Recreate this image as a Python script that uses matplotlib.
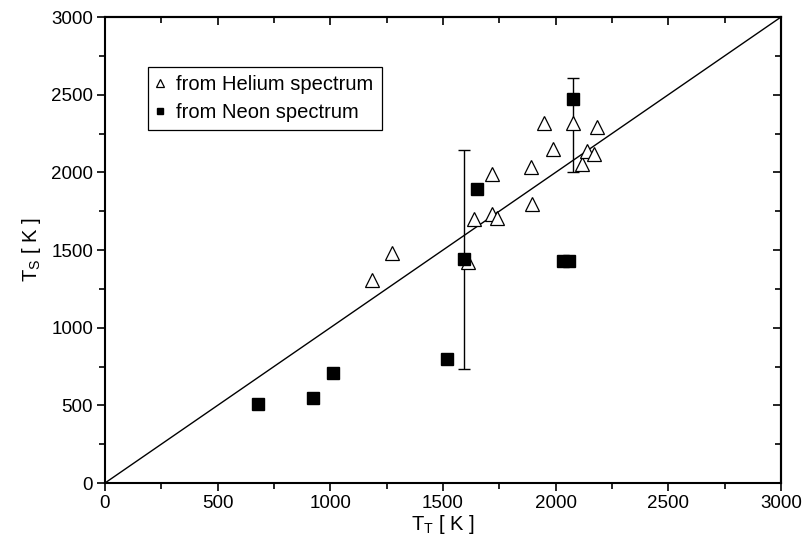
import matplotlib
matplotlib.use("Agg")
import matplotlib.pyplot as plt
from matplotlib.ticker import MultipleLocator

plt.rcParams["font.family"] = ["Liberation Sans", "DejaVu Sans"]
plt.rcParams["mathtext.fontset"] = "custom"
plt.rcParams["mathtext.rm"] = "Liberation Sans"

# Helium spectrum (triangles)
he_tt = [1184, 1274, 1610, 1638, 1719, 1739, 1719, 1894, 1889, 1949, 1990, 2079, 2116, 2138, 2172, 2183]
he_ts = [1307, 1479, 1421, 1702, 1730, 1705, 1988, 1795, 2037, 2316, 2149, 2316, 2054, 2140, 2117, 2294]

# Neon spectrum (squares)
ne_tt = [679, 925, 1013, 1517, 1593, 1652, 2034, 2058, 2076]
ne_ts = [509, 545, 706, 797, 1440, 1891, 1430, 1430, 2473]

# error bars (x, y, +/- error)
err_x = [1593, 2079]
err_y = [1438, 2305]
err_d = [705, 301]

line_xy = [0, 3000]

fig = plt.figure(figsize=(8.05, 5.58), dpi=100)
ax = fig.add_axes([0.1304, 0.1344, 0.8398, 0.8351])

ax.plot(line_xy, line_xy, color="black", lw=1.0, zorder=1)
ax.errorbar(err_x, err_y, yerr=err_d, fmt="none", ecolor="black", elinewidth=1.0,
            capsize=4, capthick=1.0, zorder=2)
ax.plot(he_tt, he_ts, ls="none", marker="^", ms=9.5, mfc="white", mec="black",
        mew=0.9, label="from Helium spectrum", zorder=3)
ax.plot(ne_tt, ne_ts, ls="none", marker="s", ms=8, mfc="black", mec="black",
        label="from Neon spectrum", zorder=4)

ax.set_xlim(0, 3000)
ax.set_ylim(0, 3000)
ax.xaxis.set_major_locator(MultipleLocator(500))
ax.xaxis.set_minor_locator(MultipleLocator(250))
ax.yaxis.set_major_locator(MultipleLocator(500))
ax.yaxis.set_minor_locator(MultipleLocator(250))
ax.tick_params(which="both", direction="out", labelsize=13.5, width=1.2, pad=2.5)
ax.tick_params(which="major", length=6)
ax.tick_params(which="minor", length=4)
for s in ax.spines.values():
    s.set_linewidth(1.5)

# inward ticks on top / right without labels
axr = ax.secondary_yaxis("right")
axr.yaxis.set_major_locator(MultipleLocator(500))
axr.yaxis.set_minor_locator(MultipleLocator(250))
axr.tick_params(which="both", direction="in", labelright=False, width=1.2)
axr.tick_params(which="major", length=6)
axr.tick_params(which="minor", length=4)
axt = ax.secondary_xaxis("top")
axt.xaxis.set_major_locator(MultipleLocator(500))
axt.xaxis.set_minor_locator(MultipleLocator(250))
axt.tick_params(which="both", direction="in", labeltop=False, width=1.2)
axt.tick_params(which="major", length=6)
axt.tick_params(which="minor", length=4)
axr.spines["right"].set_linewidth(1.5)
axt.spines["top"].set_linewidth(1.5)

ax.set_xlabel(r"T$_\mathregular{T}$ [ K ]", fontsize=14.5, labelpad=1)
ax.set_ylabel(r"T$_\mathregular{S}$ [ K ]", fontsize=14.5, labelpad=6)

leg = ax.legend(loc="upper left", bbox_to_anchor=(0.064, 0.893), borderaxespad=0,
                fontsize=14.5, markerscale=0.6, fancybox=False, edgecolor="black",
                framealpha=1, handlelength=0.4, handletextpad=0.6,
                borderpad=0.4, labelspacing=0.45)
leg.get_frame().set_linewidth(0.9)

fig.savefig("out.png", dpi=100)
